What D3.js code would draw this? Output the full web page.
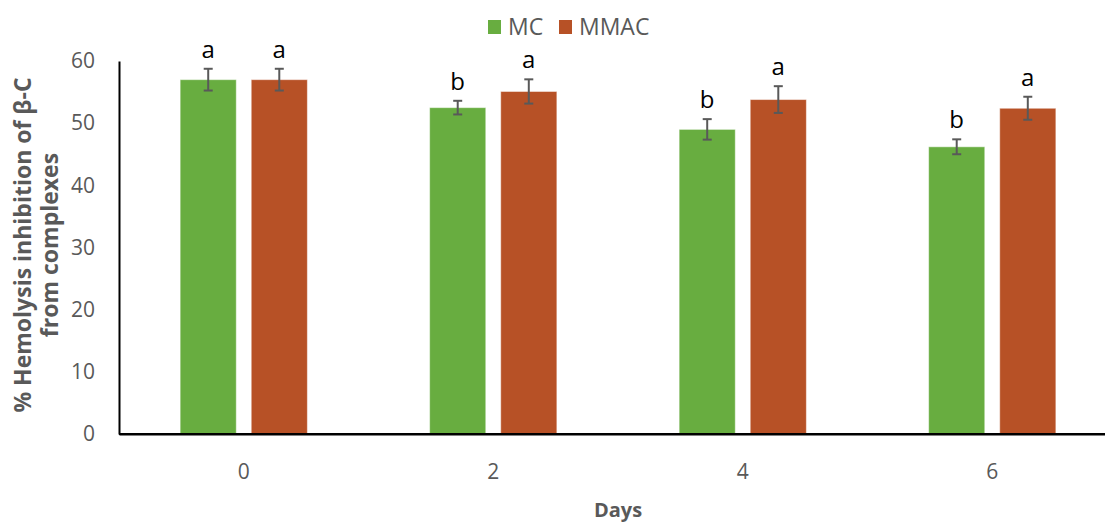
<!DOCTYPE html>
<meta charset="utf-8">
<style>
body { margin: 0; background: #fff; font-family: "Open Sans", "Noto Sans", sans-serif; }
.axis text { fill: #595959; font-size: 21px; font-family: "Open Sans", sans-serif; }
.title { fill: #595959; font-size: 20px; font-weight: bold; text-anchor: middle; }
.ytitle { font-size: 23px; }
.sig { fill: #000; font-size: 24px; text-anchor: middle; }
.legend text { fill: #595959; font-size: 23px; }
</style>
<body>
<script src="https://cdn.jsdelivr.net/npm/d3@7"></script>
<script>

// data
var days = ["0", "2", "4", "6"];
var series = ["MC", "MMAC"];
var mcValues   = [57.0, 52.5, 49.0, 46.2];
var mmacValues = [57.0, 55.1, 53.8, 52.4];
var mcErr   = [1.75, 1.1, 1.65, 1.2];
var mmacErr = [1.75, 1.95, 2.15, 1.85];
var mcLetters   = ["a", "b", "b", "b"];
var mmacLetters = ["a", "a", "a", "a"];
var yTicks = [0, 10, 20, 30, 40, 50, 60];

var colors = {MC: "#68ad40", MMAC: "#b75126"};

var width = 1105, height = 522;

var svg = d3.select("body").append("svg")
    .attr("width", width)
    .attr("height", height);

// build rows for drawing
var rows = [];
days.forEach(function(d, i) {
  rows.push({day: d, key: "MC", value: mcValues[i], err: mcErr[i], letter: mcLetters[i]});
  rows.push({day: d, key: "MMAC", value: mmacValues[i], err: mmacErr[i], letter: mmacLetters[i]});
});

// scales
var x0 = d3.scaleBand().domain(days).range([119, 1117]).paddingInner(0.49).paddingOuter(0.245);
var x1 = d3.scaleBand().domain(series).range([0, x0.bandwidth()]).paddingInner(0.21);
var y = d3.scaleLinear().domain([0, 60]).range([434, 61]);

// y axis
var yAxis = svg.append("g")
    .attr("class", "axis")
    .attr("transform", "translate(119,0)")
    .call(d3.axisLeft(y).tickValues(yTicks).tickSize(0).tickPadding(24));
yAxis.select(".domain").attr("stroke", "#000").attr("stroke-width", 2);

// x axis
var xAxis = svg.append("g")
    .attr("class", "axis")
    .attr("transform", "translate(0,434)")
    .call(d3.axisBottom(x0).tickSize(0).tickPadding(30).tickSizeOuter(0));
xAxis.select(".domain").attr("stroke", "#000").attr("stroke-width", 2);

// bars
svg.append("g").selectAll("rect")
  .data(rows)
  .join("rect")
    .attr("x", function(d) { return x0(d.day) + x1(d.key); })
    .attr("y", function(d) { return y(d.value); })
    .attr("width", x1.bandwidth())
    .attr("height", function(d) { return y(0) - y(d.value); })
    .attr("fill", function(d) { return colors[d.key]; })
    .attr("stroke", "#fff")
    .attr("stroke-opacity", 0.5)
    .attr("stroke-width", 1);

// redraw x axis line on top of bars
svg.append("line")
    .attr("x1", 119).attr("x2", width)
    .attr("y1", y(0)).attr("y2", y(0))
    .attr("stroke", "#000").attr("stroke-width", 2);

// error bars
var eb = svg.append("g").attr("stroke", "#595959").attr("stroke-width", 2);
rows.forEach(function(d) {
  var cx = x0(d.day) + x1(d.key) + x1.bandwidth() / 2;
  eb.append("line").attr("x1", cx).attr("x2", cx)
    .attr("y1", y(d.value + d.err)).attr("y2", y(d.value - d.err));
  eb.append("line").attr("x1", cx - 4.5).attr("x2", cx + 4.5)
    .attr("y1", y(d.value + d.err)).attr("y2", y(d.value + d.err));
  eb.append("line").attr("x1", cx - 4.5).attr("x2", cx + 4.5)
    .attr("y1", y(d.value - d.err)).attr("y2", y(d.value - d.err));
});

// significance letters
svg.append("g").selectAll("text")
  .data(rows)
  .join("text")
    .attr("class", "sig")
    .attr("x", function(d) { return x0(d.day) + x1(d.key) + x1.bandwidth() / 2; })
    .attr("y", function(d) { return y(d.value + d.err) - 11; })
    .text(function(d) { return d.letter; });

// legend
var legend = svg.append("g").attr("class", "legend");
var legendX = [488, 559];
series.forEach(function(s, i) {
  legend.append("rect")
      .attr("x", legendX[i]).attr("y", 20)
      .attr("width", 13).attr("height", 14)
      .attr("fill", colors[s]);
  legend.append("text")
      .attr("x", legendX[i] + 20).attr("y", 27)
      .attr("dy", "0.36em")
      .text(s);
});

// axis titles
svg.append("text")
    .attr("class", "title")
    .attr("x", 618).attr("y", 517)
    .text("Days");

var yTitle = svg.append("text")
    .attr("class", "title ytitle")
    .attr("transform", "translate(0,245) rotate(-90)");
yTitle.append("tspan").attr("x", 0).attr("y", 31).text("% Hemolysis inhibition of β-C");
yTitle.append("tspan").attr("x", 0).attr("y", 58).text("from complexes");

</script>
</body>
